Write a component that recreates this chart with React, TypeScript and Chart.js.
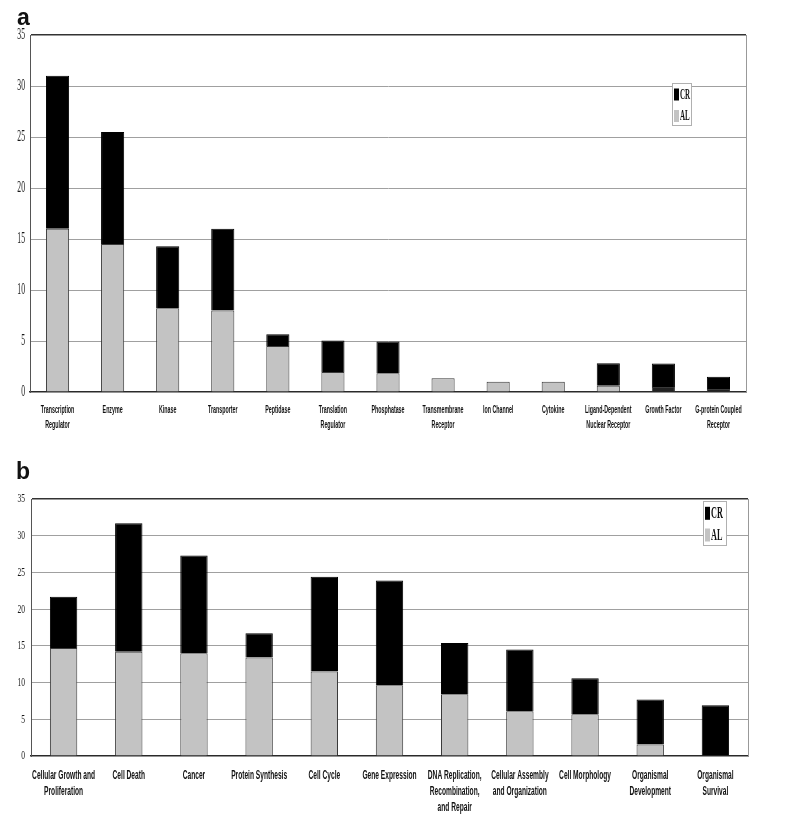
import React, { useEffect, useRef } from "react";
import { Chart, registerables } from "chart.js";

Chart.register(...registerables);

// ---------- data ----------
const categoriesA: (string | string[])[] = [
  ["Transcription", "Regulator"],
  "Enzyme",
  "Kinase",
  "Transporter",
  "Peptidase",
  ["Translation", "Regulator"],
  "Phosphatase",
  ["Transmembrane", "Receptor"],
  "Ion Channel",
  "Cytokine",
  ["Ligand-Dependent", "Nuclear Receptor"],
  "Growth Factor",
  ["G-protein Coupled", "Receptor"],
];
const alA = [16, 14.5, 8.2, 8, 4.5, 1.95, 1.85, 1.35, 1.0, 1.0, 0.62, 0.5, 0.3];
const crA = [15, 11, 6.1, 8, 1.15, 3.1, 3.1, 0, 0, 0, 2.2, 2.3, 1.2];

const categoriesB: (string | string[])[] = [
  ["Cellular Growth and", "Proliferation"],
  "Cell Death",
  "Cancer",
  "Protein Synthesis",
  "Cell Cycle",
  "Gene Expression",
  ["DNA Replication,", "Recombination,", "and Repair"],
  ["Cellular Assembly", "and Organization"],
  "Cell Morphology",
  ["Organismal", "Development"],
  ["Organismal", "Survival"],
];
const alB = [14.7, 14.2, 14.0, 13.4, 11.5, 9.65, 8.4, 6.1, 5.7, 1.55, 0];
const crB = [7.0, 17.5, 13.3, 3.3, 12.9, 14.25, 7.0, 8.4, 4.9, 6.15, 6.9];

const seriesAL = "AL";
const seriesCR = "CR";
const yMin = 0;
const yMax = 35;
const yStep = 5;

// ---------- styles ----------
const GRAY = "#c3c3c3";
const DARK = "#222222";
const BLACK = "#000000";
const alShadeA = [GRAY, GRAY, GRAY, GRAY, GRAY, GRAY, GRAY, GRAY, GRAY, GRAY, GRAY, DARK, DARK];
const alShadeB = categoriesB.map(() => GRAY);

const SANS = '"Liberation Sans", Arial, sans-serif';
const SERIF = '"Liberation Serif", "Times New Roman", serif';

type LegendBox = { x: number; y: number; w: number; h: number; firstRow: number; rowGap: number; mh: number; fontSize: number; sx: number };
type TextStyle = {
  xFont: number; xSx: number; xLine: number; xOffset: number;
  yFont: number; ySx: number; yRight: number;
};

type PanelProps = {
  categories: (string | string[])[];
  al: number[];
  cr: number[];
  alShade: string[];
  top: number;
  height: number;
  padTop: number;
  padRight: number;
  yAxisWidth: number;
  xAxisHeight: number;
  text: TextStyle;
  legend: LegendBox;
};

function squished(ctx: CanvasRenderingContext2D, s: string, x: number, y: number, sx: number, align: CanvasTextAlign) {
  ctx.save();
  ctx.translate(x, y);
  ctx.scale(sx, 1);
  ctx.textAlign = align;
  ctx.textBaseline = "middle";
  ctx.fillText(s, 0, 0);
  ctx.restore();
}

function makeDecorPlugin(lg: LegendBox, ts: TextStyle) {
  return {
    id: "decor",
    afterDraw(chart: any) {
      const ctx = chart.ctx as CanvasRenderingContext2D;
      const area = chart.chartArea;
      const xs = chart.scales.x;
      const ys = chart.scales.y;
      ctx.save();
      // right frame line
      ctx.strokeStyle = "#999";
      ctx.lineWidth = 1;
      ctx.beginPath();
      ctx.moveTo(area.right + 0.5, area.top);
      ctx.lineTo(area.right + 0.5, area.bottom);
      ctx.stroke();

      // x category labels (condensed, like the original)
      ctx.fillStyle = "#111";
      ctx.font = `bold ${ts.xFont}px ${SANS}`;
      (chart.data.labels as any[]).forEach((lab, i) => {
        const lines = Array.isArray(lab) ? lab : [lab];
        const px = xs.getPixelForTick(i);
        lines.forEach((ln: string, j: number) => {
          squished(ctx, ln, px, area.bottom + ts.xOffset + j * ts.xLine, ts.xSx, "center");
        });
      });

      // y tick labels
      ctx.fillStyle = "#1a1a1a";
      ctx.font = `${ts.yFont}px ${SERIF}`;
      ys.ticks.forEach((t: any) => {
        squished(ctx, String(t.value), ts.yRight, ys.getPixelForValue(t.value), ts.ySx, "right");
      });

      // legend box
      ctx.fillStyle = "#ffffff";
      ctx.fillRect(lg.x, lg.y, lg.w, lg.h);
      ctx.strokeStyle = "#b0b0b0";
      ctx.strokeRect(lg.x + 0.5, lg.y + 0.5, lg.w - 1, lg.h - 1);
      const items = chart.data.datasets
        .map((d: any) => ({ label: d.label, color: d.legendColor }))
        .reverse();
      items.forEach((it: any, i: number) => {
        const cy = lg.y + lg.firstRow + i * lg.rowGap;
        ctx.fillStyle = it.color;
        ctx.fillRect(lg.x + 2, cy - lg.mh / 2, 5, lg.mh);
        ctx.fillStyle = "#111";
        ctx.font = `bold ${lg.fontSize}px ${SERIF}`;
        squished(ctx, it.label, lg.x + 8, cy + 0.5, lg.sx, "left");
      });
      ctx.restore();
    },
  };
}

function Panel(p: PanelProps) {
  const ref = useRef<HTMLCanvasElement | null>(null);
  useEffect(() => {
    if (!ref.current) return;
    const chart = new Chart(ref.current, {
      type: "bar",
      data: {
        labels: p.categories as any,
        datasets: [
          {
            label: seriesAL,
            data: p.al,
            backgroundColor: p.alShade,
            borderColor: "#3a3a3a",
            borderWidth: 1,
            legendColor: GRAY,
            categoryPercentage: 1,
            barPercentage: 0.42,
          } as any,
          {
            label: seriesCR,
            data: p.cr,
            backgroundColor: BLACK,
            borderColor: BLACK,
            borderWidth: 1,
            legendColor: BLACK,
            categoryPercentage: 1,
            barPercentage: 0.42,
          } as any,
        ],
      },
      options: {
        animation: false,
        responsive: true,
        maintainAspectRatio: false,
        layout: { padding: { top: p.padTop, right: p.padRight, left: 0, bottom: 0 } },
        plugins: {
          legend: { display: false },
          tooltip: { enabled: false },
        },
        scales: {
          x: {
            stacked: true,
            grid: { display: false, drawTicks: false, tickLength: 0 },
            border: { display: true, color: "#2a2a2a", width: 1.5 },
            ticks: { display: false, autoSkip: false, maxRotation: 0, minRotation: 0 },
            afterFit: (s: any) => {
              s.height = p.xAxisHeight;
            },
          },
          y: {
            stacked: true,
            min: yMin,
            max: yMax,
            grid: {
              drawTicks: false,
              tickLength: 0,
              color: (c: any) =>
                c.tick && c.tick.value === yMax ? "#333" : c.tick && c.tick.value === yMin ? "rgba(0,0,0,0)" : "#a0a0a0",
              lineWidth: (c: any) => (c.tick && c.tick.value === yMax ? 1.5 : 1),
            },
            border: { display: true, color: "#555", width: 1 },
            ticks: { display: false, stepSize: yStep },
            afterFit: (s: any) => {
              s.width = p.yAxisWidth;
            },
          },
        },
      } as any,
      plugins: [makeDecorPlugin(p.legend, p.text)],
    });
    return () => chart.destroy();
  }, []);
  return (
    <div style={{ position: "absolute", left: 0, top: p.top, width: 800, height: p.height }}>
      <canvas ref={ref} />
    </div>
  );
}

export default function App() {
  return (
    <div style={{ position: "absolute", left: 0, top: 0, width: 800, height: 821, background: "#fff", overflow: "hidden" }}>
      <Panel
        categories={categoriesA}
        al={alA}
        cr={crA}
        alShade={alShadeA}
        top={0}
        height={445}
        padTop={35}
        padRight={54}
        yAxisWidth={30}
        xAxisHeight={53}
        text={{ xFont: 10, xSx: 0.53, xLine: 15, xOffset: 18, yFont: 16, ySx: 0.48, yRight: 25 }}
        legend={{ x: 672, y: 83, w: 20, h: 43, firstRow: 11.5, rowGap: 21.5, mh: 12, fontSize: 14, sx: 0.5 }}
      />
      <Panel
        categories={categoriesB}
        al={alB}
        cr={crB}
        alShade={alShadeB}
        top={445}
        height={376}
        padTop={54}
        padRight={52}
        yAxisWidth={31}
        xAxisHeight={65}
        text={{ xFont: 12.5, xSx: 0.53, xLine: 16, xOffset: 19.5, yFont: 13, ySx: 0.58, yRight: 25 }}
        legend={{ x: 703, y: 56, w: 24, h: 45, firstRow: 12.3, rowGap: 21.7, mh: 13, fontSize: 17, sx: 0.48 }}
      />
      <div
        style={{
          position: "absolute",
          left: 17,
          top: 5.5,
          fontFamily: '"Liberation Sans", Arial, sans-serif',
          fontWeight: "bold",
          fontSize: 23,
          lineHeight: 1,
          color: "#111",
        }}
      >
        a
      </div>
      <div
        style={{
          position: "absolute",
          left: 16,
          top: 459.5,
          fontFamily: '"Liberation Sans", Arial, sans-serif',
          fontWeight: "bold",
          fontSize: 23,
          lineHeight: 1,
          color: "#111",
        }}
      >
        b
      </div>
    </div>
  );
}
